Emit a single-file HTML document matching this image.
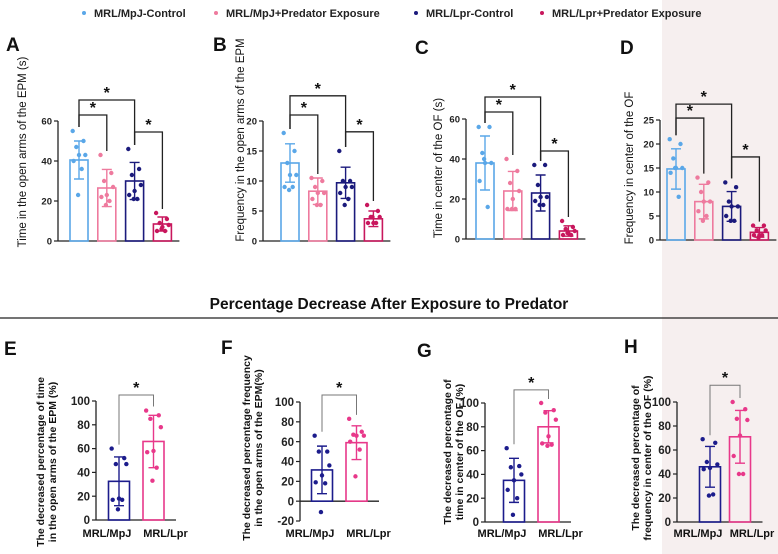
<!DOCTYPE html>
<html><head><meta charset="utf-8"><style>
body{margin:0;background:#fff;}
svg{display:block;font-family:"Liberation Sans",Arial,sans-serif;}
</style></head><body>
<svg id="fig" width="778" height="554" viewBox="0 0 778 554">
<rect x="662" y="0" width="116" height="554" fill="#f6efef"/>
<g font-size="11" font-weight="bold" fill="#222">
 <g><circle cx="84" cy="13" r="2" fill="#5aa7e8"/><text x="94" y="17">MRL/MpJ-Control</text></g>
 <g><circle cx="216" cy="13" r="2" fill="#ee7a9e"/><text x="226" y="17">MRL/MpJ+Predator Exposure</text></g>
 <g><circle cx="416" cy="13" r="2" fill="#1b1a7c"/><text x="426" y="17">MRL/Lpr-Control</text></g>
 <g><circle cx="542" cy="13" r="2" fill="#c8175d"/><text x="552" y="17">MRL/Lpr+Predator Exposure</text></g>
</g>
<text x="389" y="309" text-anchor="middle" font-size="15.5" font-weight="bold" fill="#111">Percentage Decrease After Exposure to Predator</text>
<line x1="0" y1="318" x2="778" y2="318" stroke="#222" stroke-width="1.3"/>
<g id="panels"></g>
</svg>
<script>
// ---- data ----
const topGroups = ["MRL/MpJ-Control","MRL/MpJ+Predator Exposure","MRL/Lpr-Control","MRL/Lpr+Predator Exposure"];
const botGroups = ["MRL/MpJ","MRL/Lpr"];
const aMeans = [40.5, 26.5, 30, 8.5];
const aSD = [9.5, 9.3, 9.3, 3.5];
const aPts = [[55,50,47,43,43,40,36,23],[43,34,30,27,23,22,20,18],[46,36,33,28,25,23,21,21],[14,11,9,8,7,5,5,6]];
const bMeans = [13, 8.3, 9.7, 3.7];
const bSD = [3.2, 2.2, 2.6, 1.3];
const bPts = [[18,15,13,11,11,9,9,8.5],[10.5,10,9,8,8,7,6,6],[15,10,10,9,9,8,7,6],[6,5,4,4,3,3,3,4]];
const cMeans = [38, 24, 23, 4];
const cSD = [13.5, 9.8, 9, 2.6];
const cPts = [[56,56,43,38,38,29,16,40],[40,34,28,24,20,15,15,15],[37,37,27,21,21,19,17,17],[9,6,5,4,3,2,2,3]];
const dMeans = [14.8, 8, 7, 1.6];
const dSD = [4.2, 3.6, 3.1, 1];
const dPts = [[21,20,17,15,15,14,9,15],[13,12,10,8,8,6,5,4],[12,11,8,7,7,5,4,4],[3,3,2,2,1,1,1,0.5]];
const eMeans = [32.5, 66];
const eSD = [20.5, 22];
const ePts = [[60,52,47,47,18,17,17,9],[92,88,85,78,58,57,44,33]];
const fMeans = [31.5, 59];
const fSD = [24, 17];
const fPts = [[66,50,50,36,26,19,18,-11],[83,70,67,66,66,60,52,25]];
const gMeans = [35, 80];
const gSD = [18.5, 13.5];
const gPts = [[62,47,46,40,35,27,20,6],[100,94,92,86,72,66,65,64]];
const hMeans = [46, 71];
const hSD = [17, 22];
const hPts = [[69,66,50,48,45,44,23,22],[100,94,86,85,72,55,40,40]];
const aTicks=[0,20,40,60], bTicks=[0,5,10,15,20], cTicks=[0,20,40,60], dTicks=[0,5,10,15,20,25];
const eTicks=[0,20,40,60,80,100], fTicks=[-20,0,20,40,60,80,100];
// brackets: [groupA, groupB, level value]
const aBr=[[0,1,63],[0,2,70.5],[2,3,54.5]];
const bBr=[[0,1,21],[0,2,24.2],[2,3,18.2]];
const cBr=[[0,1,63.5],[0,2,71],[2,3,44]];
const dBr=[[0,1,25.4],[0,2,28.3],[2,3,17.3]];
const eBr=[[0,1,105]], fBr=[[0,1,107]], gBr=[[0,1,111]], hBr=[[0,1,114]];

const topCols=["#5aa7e8","#ee7a9e","#1b1a7c","#c8175d"];
const botCols=["#1c1c8c","#e8388a"];
const jit=[-7,5,-3,7,0,-6,3,-1];
const NS="http://www.w3.org/2000/svg";
const root=document.getElementById('panels');
function el(tag,attrs,parent){const e=document.createElementNS(NS,tag);for(const k in attrs)e.setAttribute(k,attrs[k]);(parent||root).appendChild(e);return e;}

function panel(cfg){
 const g=el('g',{});
 
 
 const ymin=cfg.ticks[0], ymax=cfg.ticks[cfg.ticks.length-1];
 const y=v=>cfg.y0-(v-ymin)*(cfg.y0-cfg.yTop)/(ymax-ymin);
 const x=i=>cfg.c0+i*cfg.step;
 const n=cfg.means.length;
 const xEnd=x(n-1)+cfg.bw/2+cfg.pad;
 const L=el('text',{x:cfg.lx,y:cfg.ly,'font-size':19,'font-weight':'bold',fill:'#111'},g);L.textContent=cfg.id.toUpperCase();
 
 
 const T=el('text',{transform:`translate(${cfg.tx},${cfg.ty}) rotate(-90)`,'text-anchor':'middle','font-size':cfg.tfs,'font-weight':cfg.tfw,fill:'#111'},g);
 
 
 cfg.title.forEach((s,i)=>{const ts=el('tspan',{x:0,dy:i?cfg.tfs*1.15:0},T);ts.textContent=s;});
 const ya=el('line',{x1:cfg.ax,y1:y(ymax),x2:cfg.ax,y2:y(ymin),stroke:'#222','stroke-width':1.3},g);
 
 
 const base=ymin<0?y(0):y(ymin);
 const xa=el('line',{x1:cfg.ax,y1:base,x2:xEnd,y2:base,stroke:'#222','stroke-width':1.3},g);
 
 
 cfg.ticks.forEach(t=>{
  const tl=el('line',{x1:cfg.ax-4,y1:y(t),x2:cfg.ax,y2:y(t),stroke:'#222','stroke-width':1.2},g);
  
  
  const tt=el('text',{x:cfg.ax-6,y:y(t)+cfg.kfs*0.36,'text-anchor':'end','font-size':cfg.kfs,'font-weight':'bold',fill:'#222'},g);
  tt.textContent=t;
  
  
 });
 for(let i=0;i<n;i++){
  const col=cfg.cols[i], cx=x(i);
  const b=el('rect',{x:cx-cfg.bw/2,y:Math.min(y(cfg.means[i]),base),width:cfg.bw,height:Math.abs(base-y(cfg.means[i])),fill:'none',stroke:col,'stroke-width':1.6},g);
  
  
  const hi=y(cfg.means[i]+cfg.sd[i]), lo=y(cfg.means[i]-cfg.sd[i]);
  const eb=el('path',{d:`M${cx},${hi}V${lo}M${cx-5},${hi}H${cx+5}M${cx-5},${lo}H${cx+5}`,stroke:col,'stroke-width':1.4,fill:'none'},g);
  
  
  cfg.pts[i].forEach((v,j)=>{
   const p=el('circle',{cx:cx+jit[j]*cfg.bw/20,cy:y(v),r:2.2,fill:col},g);
   
   
  });
  if(cfg.xlabels){
   const xl=el('text',{x:cx+(i?12:-12),y:cfg.xly,'text-anchor':'middle','font-size':11,'font-weight':'bold',fill:'#111'},g);
   xl.textContent=cfg.xlabels[i];
   
   
  }
 }
 cfg.br.forEach(([a,b,lv])=>{
  const top=y(lv);
  const ma=y(Math.max(...cfg.pts[a]))-4, mb=y(Math.max(...cfg.pts[b]))-4;
  const br=el('path',{d:`M${x(a)},${ma}V${top}H${x(b)}V${mb}`,fill:'none',stroke:cfg.bcol,'stroke-width':cfg.bsw},g);
  
  
  const st=el('text',{x:(x(a)+x(b))/2,y:top-2,'text-anchor':'middle','font-size':16,'font-weight':'bold',fill:'#111'},g);
  st.textContent='*';
  
  
 });
}
const topBase={bw:18,step:27.8,pad:8,cols:topCols,tfs:11.5,tfw:'normal',kfs:9.5,bcol:'#222',bsw:1.3};
panel({...topBase,id:'a',ax:58,y0:241,yTop:121,c0:79,ticks:aTicks,means:aMeans,sd:aSD,pts:aPts,br:aBr,lx:6,ly:51,tx:26,ty:152,title:["Time in the open arms of the EPM (s)"]});
panel({...topBase,id:'b',ax:263,y0:241,yTop:121,c0:290,ticks:bTicks,means:bMeans,sd:bSD,pts:bPts,br:bBr,lx:213,ly:51,tx:244,ty:140,title:["Frequency in the open arms of the EPM"]});
panel({...topBase,id:'c',ax:466,y0:239,yTop:119,c0:485,ticks:cTicks,means:cMeans,sd:cSD,pts:cPts,br:cBr,lx:415,ly:54,tx:442,ty:168,title:["Time in center of the OF (s)"]});
panel({...topBase,id:'d',ax:660,y0:240,yTop:120,c0:676,ticks:dTicks,means:dMeans,sd:dSD,pts:dPts,br:dBr,lx:620,ly:54,tx:633,ty:168,title:["Frequency in center of the OF"]});
const botBase={bw:21,step:34.5,pad:12,cols:botCols,tfs:10.5,tfw:'bold',kfs:11.5,bcol:'#777',bsw:1,xlabels:botGroups};
panel({...botBase,id:'e',ax:96,y0:520,yTop:401,c0:119,ticks:eTicks,means:eMeans,sd:eSD,pts:ePts,br:eBr,lx:4,ly:355,tx:44,ty:462,xly:537,title:["The decreased percentage of time","in the open arms of the EPM (%)"]});
panel({...botBase,id:'f',ax:300,y0:521,yTop:402,c0:322,ticks:fTicks,means:fMeans,sd:fSD,pts:fPts,br:fBr,lx:221,ly:354,tx:250,ty:448,xly:537,title:["The decreased percentage frequency","in the open arms of the EPM(%)"]});
panel({...botBase,id:'g',ax:485,y0:522,yTop:403,c0:514,ticks:eTicks,means:gMeans,sd:gSD,pts:gPts,br:gBr,lx:417,ly:357,tx:451,ty:452,xly:537,title:["The decreased percentage of","time in center of the OF  (%)"]});
panel({...botBase,id:'h',ax:677,y0:522,yTop:402,c0:710,step:30,ticks:eTicks,means:hMeans,sd:hSD,pts:hPts,br:hBr,lx:624,ly:353,tx:639,ty:458,xly:537,title:["The decreased percentage of","frequency in center of the OF (%)"]});
</script>
</body></html>
